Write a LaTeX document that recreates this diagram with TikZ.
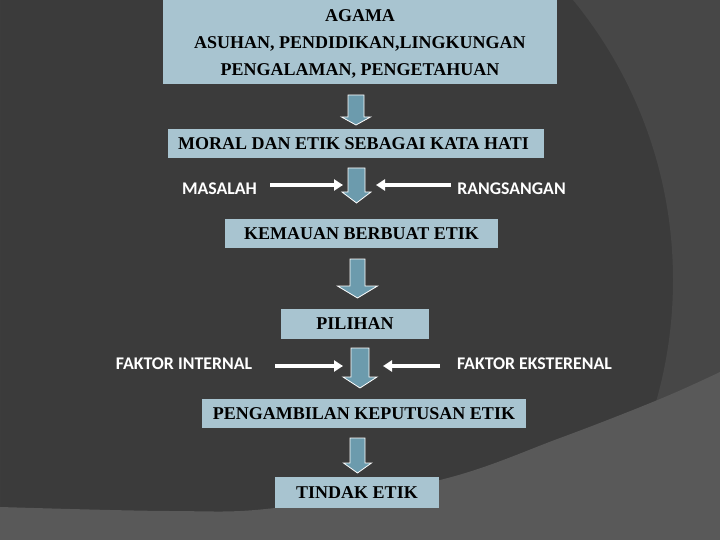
\documentclass[tikz,border=0pt]{standalone}
\usepackage{fontspec}
\setmainfont{Liberation Serif}
\newfontfamily\calfont{Carlito}
\usetikzlibrary{arrows.meta}
\definecolor{bgdark}{RGB}{59,59,59}
\definecolor{bgmid}{RGB}{71,71,71}
\definecolor{bglight}{RGB}{89,89,89}
\definecolor{boxfill}{RGB}{168,196,208}
\definecolor{arrowfill}{RGB}{108,155,173}
\tikzset{
  box/.style={fill=boxfill, inner sep=0pt, text=black, align=center,
    font=\fontsize{18}{27}\selectfont\bfseries},
  lbl/.style={font=\calfont\fontsize{17.8}{20}\selectfont\bfseries, text=white, inner sep=0pt},
  blk/.style={fill=arrowfill, draw=white, line width=0.8pt, line join=miter},
  side/.style={draw=white, line width=3.5pt, -{Triangle[length=9pt,width=11pt]}},
}
\newcommand\blockarrow[6]{% cx, shaft half, head half, top, head start, tip
  \draw[blk] (#1-#2,#4) -- (#1+#2,#4) -- (#1+#2,#5) -- (#1+#3,#5) -- (#1,#6)
    -- (#1-#3,#5) -- (#1-#2,#5) -- cycle;}
\begin{document}
\begin{tikzpicture}[x=1pt,y=-1pt]
\useasboundingbox (0,0) rectangle (720,540);
% background
\fill[bgdark] (0,0) rectangle (720,540);
\fill[bgmid, even odd rule] (0,0) rectangle (720,540) (231,280) circle[radius=442pt];
\fill[bglight] plot[smooth, tension=0.6] coordinates {(0,507) (170,511) (275,508) (440,480) (560,438) (660,399) (720,372)}
  -- (720,540) -- (0,540) -- cycle;
% boxes
\node[box, minimum width=394pt, minimum height=86pt] (b1) at (360,41) {};
\node[box, anchor=center] (b1t) at (360,43.5)
  {AGAMA\\ASUHAN, PENDIDIKAN,LINGKUNGAN\\PENGALAMAN, PENGETAHUAN};
\node[box, minimum width=376pt, minimum height=29pt] (b2) at (356,144) {MORAL DAN ETIK SEBAGAI KATA HATI\hspace{5pt}};
\node[box, minimum width=273pt, minimum height=29pt] (b3) at (361.5,233.5) {KEMAUAN BERBUAT ETIK};
\node[box, minimum width=148pt, minimum height=30pt] (b4) at (355,324) {PILIHAN};
\node[box, minimum width=324pt, minimum height=29pt] (b5) at (364,413.5) {PENGAMBILAN KEPUTUSAN ETIK};
\node[box, minimum width=164pt, minimum height=31pt] (b6) at (357,492.5) {TINDAK ETIK};
% block arrows
\blockarrow{356}{8}{14.5}{95}{117}{125}
\blockarrow{356.5}{8.5}{14.5}{168}{192}{203}
\blockarrow{357.5}{7.5}{20}{259}{286}{298}
\blockarrow{360}{9}{17}{348}{377}{388}
\blockarrow{357.5}{7.5}{14}{438}{463}{473}
% side labels
\node[lbl] (masalah) at (219.5,189) {MASALAH};
\node[lbl] (rang) at (511.5,189) {RANGSANGAN};
\node[lbl] (fint) at (184,364) {FAKTOR INTERNAL};
\node[lbl] (fext) at (534.5,364) {FAKTOR EKSTERENAL};
\coordinate (m1) at (270,185); \coordinate (m2) at (343,185);
\coordinate (r1) at (451,185); \coordinate (r2) at (376,185);
\coordinate (i1) at (275,366); \coordinate (i2) at (343,366);
\coordinate (e1) at (440,366); \coordinate (e2) at (383,366);
\draw[side] (m1) -- (m2);
\draw[side] (r1) -- (r2);
\draw[side] (i1) -- (i2);
\draw[side] (e1) -- (e2);
\end{tikzpicture}
\end{document}
